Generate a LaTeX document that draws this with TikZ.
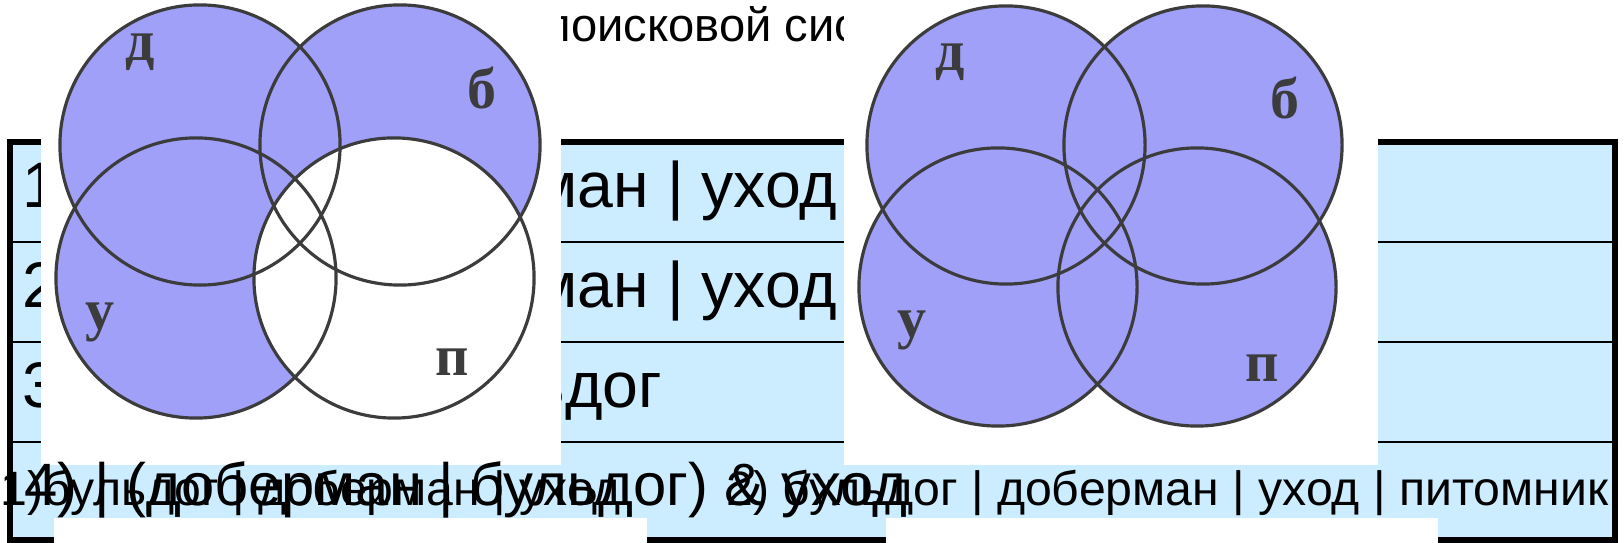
\documentclass[tikz,border=0pt]{standalone}
\usepackage{fontspec}
\setmainfont{Liberation Sans}
\newfontfamily\serifcyr{Liberation Serif}
\definecolor{cellblue}{HTML}{CCECFF}
\definecolor{vennfill}{HTML}{A0A0F8}
\definecolor{venngray}{HTML}{3C3C3C}
\newcommand\rowsize{\fontsize{18.3pt}{21pt}\selectfont}
\newcommand\lastsize{\fontsize{17pt}{20pt}\selectfont}
\newcommand\capsize{\fontsize{13.7pt}{16pt}\selectfont}
\newcommand\titlesize{\fontsize{13.4pt}{16pt}\selectfont}
\newcommand\setsize{\serifcyr\bfseries\fontsize{16.5pt}{18pt}\selectfont}

\tikzset{
  rowtext/.style={anchor=base east, inner sep=0pt, font=\rowsize},
  rownum/.style={anchor=base west, inner sep=0pt, font=\rowsize},
  captext/.style={anchor=base west, inner sep=0pt, font=\capsize},
  venn/.style={draw=venngray, line width=0.9pt},
  setlabel/.style={text=venngray, font=\setsize, inner sep=0pt},
}

\begin{document}
\begin{tikzpicture}[x=0.01cm,y=-0.01cm]
  \useasboundingbox (0,0) rectangle (1624,543);

  % table
  \fill[cellblue] (10,142) rectangle (1615,540);
  \foreach \n/\y in {1/208, 2/308, 3/408} \node[rownum] (num\n) at (22,\y) {\n)};
  \node[rowtext] (row1) at (838,208) {бульдог | доберман | уход};
  \node[rowtext, anchor=base west] (row2) at (row1.base west |- num2.base) {бульдог | доберман | уход | питомник};
  \node[rowtext] (row3) at (663,408) {доберман \& бульдог};
  \foreach \y in {242,342,442} \draw[line width=0.85pt] (10,\y) -- (1615,\y);
  \draw[line width=1.5pt] (10,142) rectangle (1615,540);

  \node[anchor=base west, inner sep=0pt, font=\titlesize] (title) at (545,42) {поисковой сис};

  % left diagram
  \fill[white] (41,0) rectangle (561,465);
  \foreach \cx/\cy in {200/145, 400/145, 196/278} \fill[vennfill] (\cx,\cy) circle (1.4cm);
  \fill[white] (394,278) circle (1.4cm);
  \foreach \cx/\cy in {200/145, 400/145, 196/278, 394/278} \draw[venn] (\cx,\cy) circle (1.4cm);
  \node[setlabel] (ld) at (140,52) {д};
  \node[setlabel] (lb) at (482,88) {б};
  \node[setlabel] (lu) at (100,322) {у};
  \node[setlabel] (lp) at (452,362) {п};

  % right diagram
  \fill[white] (844,0) rectangle (1378,465);
  \foreach \cx/\cy in {1006/145, 1203/145, 998/287, 1197/287} \fill[vennfill] (\cx,\cy) circle (1.39cm);
  \foreach \cx/\cy in {1006/145, 1203/145, 998/287, 1197/287} \draw[venn] (\cx,\cy) circle (1.39cm);
  \node[setlabel] (rd) at (950,62) {д};
  \node[setlabel] (rb) at (1285,98) {б};
  \node[setlabel] (ru) at (912,330) {у};
  \node[setlabel] (rp) at (1262,368) {п};

  % pictures below
  \fill[white] (54,518) rectangle (647,543);
  \fill[white] (886,518) rectangle (1438,543);

  % captions
  \node[captext] (capA) at (0,505) {1)бульдог | доберман | уход};
  \node[captext, anchor=base east] (capB) at (1609,505) {2) бульдог | доберман | уход | питомник};
  \node[anchor=base west, inner sep=0pt, font=\lastsize] (row4) at (24,505) {4) | (доберман | бульдог) \& уход};
\end{tikzpicture}
\end{document}
